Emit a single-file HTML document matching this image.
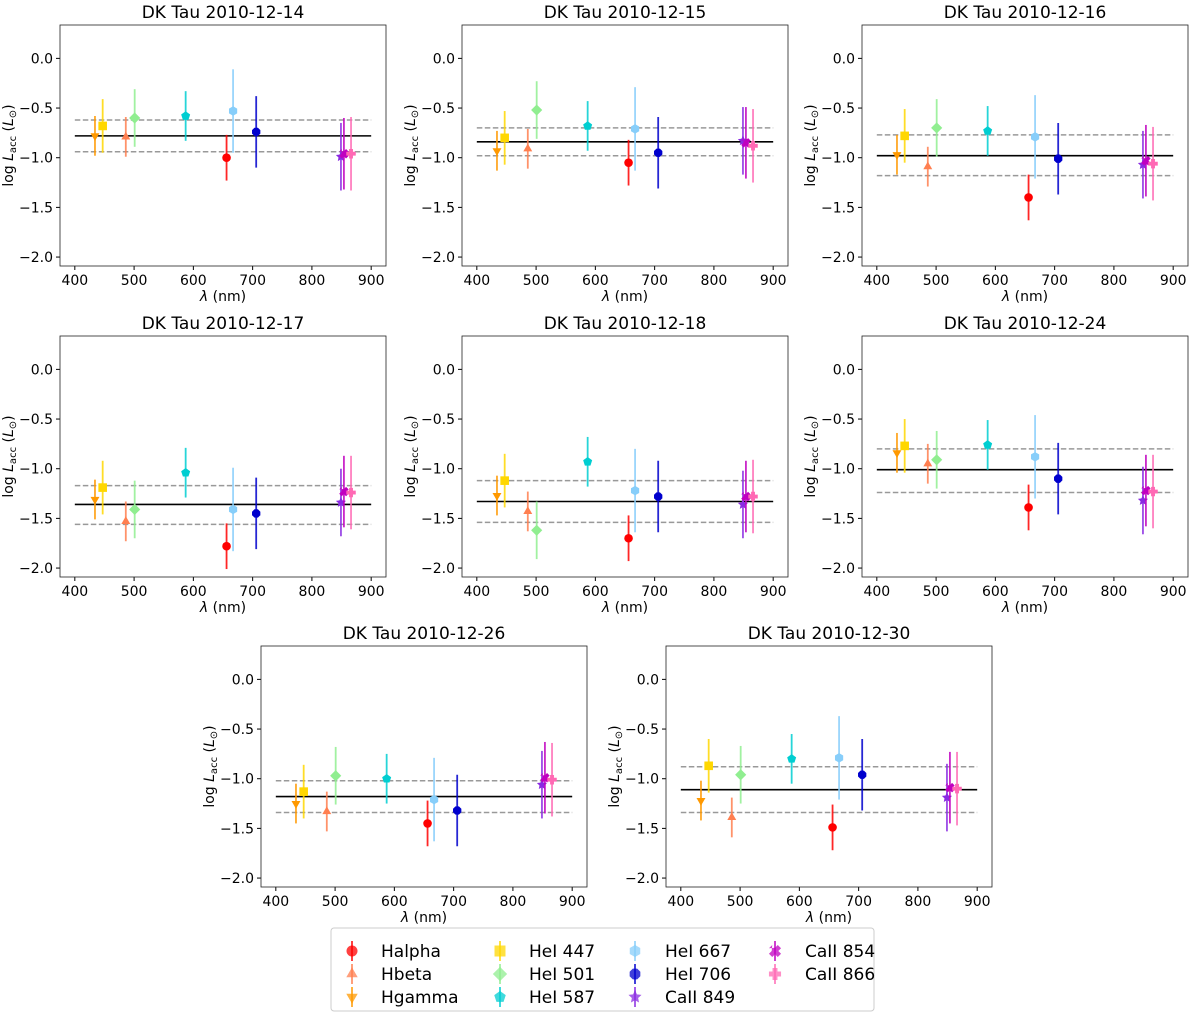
<!DOCTYPE html>
<html><head><meta charset="utf-8">
<style>
body{margin:0;background:#fff;}
svg{display:block;font-family:"DejaVu Sans","Liberation Sans",sans-serif;}
</style></head>
<body>
<svg id="fig" width="1200" height="1019" viewBox="0 0 1200 1019" xmlns="http://www.w3.org/2000/svg"></svg>
<script>
const lineNames = ["Halpha","Hbeta","Hgamma","HeI 447","HeI 501","HeI 587","HeI 667","HeI 706","CaII 849","CaII 854","CaII 866"];
const wavelengths = [656,486,434,447,501,587,667,706,849,854,866];
const colors = ["#ff0000","#ff7f50","#ff9900","#ffd700","#90ee90","#00ced1","#87cefa","#0000cd","#8a2be2","#c000c0","#ff69b4"];
const markers = ["circle","tri-up","tri-down","square","diamond","pentagon","hexagon","octagon","star","xcross","plus"];
const errors = [0.23,0.2,0.2,0.27,0.29,0.25,0.42,0.36,0.34,0.36,0.37];
const panelTitles = ["DK Tau 2010-12-14","DK Tau 2010-12-15","DK Tau 2010-12-16","DK Tau 2010-12-17","DK Tau 2010-12-18","DK Tau 2010-12-24","DK Tau 2010-12-26","DK Tau 2010-12-30"];
const vals1214 = [-1.0,-0.79,-0.78,-0.68,-0.60,-0.58,-0.53,-0.74,-0.99,-0.96,-0.96];
const vals1215 = [-1.05,-0.91,-0.93,-0.80,-0.52,-0.68,-0.71,-0.95,-0.83,-0.85,-0.88];
const vals1216 = [-1.40,-1.09,-0.97,-0.78,-0.70,-0.73,-0.79,-1.01,-1.07,-1.03,-1.06];
const vals1217 = [-1.78,-1.53,-1.31,-1.19,-1.41,-1.04,-1.41,-1.45,-1.34,-1.23,-1.24];
const vals1218 = [-1.70,-1.43,-1.27,-1.12,-1.62,-0.93,-1.22,-1.28,-1.36,-1.28,-1.28];
const vals1224 = [-1.39,-0.95,-0.84,-0.77,-0.91,-0.76,-0.88,-1.10,-1.32,-1.22,-1.23];
const vals1226 = [-1.45,-1.33,-1.25,-1.13,-0.97,-1.00,-1.21,-1.32,-1.06,-0.99,-1.01];
const vals1230 = [-1.49,-1.39,-1.22,-0.87,-0.96,-0.80,-0.79,-0.96,-1.19,-1.09,-1.10];
const panelValues = [vals1214,vals1215,vals1216,vals1217,vals1218,vals1224,vals1226,vals1230];
const means = [-0.78,-0.84,-0.98,-1.36,-1.33,-1.01,-1.18,-1.11];
const upperBand = [-0.62,-0.70,-0.77,-1.17,-1.12,-0.80,-1.02,-0.88];
const lowerBand = [-0.94,-0.98,-1.18,-1.56,-1.54,-1.24,-1.34,-1.34];
const xTicks = [400,500,600,700,800,900];
const yTicks = [0.0,-0.5,-1.0,-1.5,-2.0];
const yTickLabels = ["0.0","\u22120.5","\u22121.0","\u22121.5","\u22122.0"];

const NS="http://www.w3.org/2000/svg";
const svg=document.getElementById('fig');
function mk(tag,attrs,parent){const e=document.createElementNS(NS,tag);for(const k in attrs)e.setAttribute(k,attrs[k]);(parent||svg).appendChild(e);return e;}
const PW=326,PH=241,XMIN=375,XMAX=925,YMIN=-2.09,YMAX=0.336;
const panelPos=[[60,25],[462,25],[862,25],[60,336],[462,336],[862,336],[261,646],[666,646]];

function markerPath(type,cx,cy,r){
  const poly=(n,rot,rr)=>{let p=[];for(let i=0;i<n;i++){const a=rot+i*2*Math.PI/n;p.push((cx+rr*Math.cos(a)).toFixed(2)+","+(cy+rr*Math.sin(a)).toFixed(2));}return p.join(" ");};
  switch(type){
    case "circle": return ["circle",{cx,cy,r}];
    case "tri-up": return ["polygon",{points:poly(3,-Math.PI/2,r*1.2)}];
    case "tri-down": return ["polygon",{points:poly(3,Math.PI/2,r*1.2)}];
    case "square": return ["rect",{x:cx-r,y:cy-r,width:2*r,height:2*r}];
    case "diamond": return ["polygon",{points:poly(4,-Math.PI/2,r*1.3)}];
    case "pentagon": return ["polygon",{points:poly(5,-Math.PI/2,r*1.1)}];
    case "hexagon": return ["polygon",{points:poly(6,-Math.PI/2,r*1.1)}];
    case "octagon": return ["polygon",{points:poly(8,Math.PI/8,r*1.05)}];
    case "star": {let p=[];for(let i=0;i<10;i++){const a=-Math.PI/2+i*Math.PI/5;const rr=i%2?r*0.6:r*1.25;p.push((cx+rr*Math.cos(a)).toFixed(2)+","+(cy+rr*Math.sin(a)).toFixed(2));}return ["polygon",{points:p.join(" ")}];}
    case "xcross": {const a=r*0.6,b=r*1.1;const p=[[-b,-b+a],[0,-a],[b-a,-b],[b,-b+a],[a,0],[b,b-a],[b-a,b],[0,a],[-b+a,b],[-b,b-a],[-a,0],[-b+a,-b]];
      return ["polygon",{points:p.map(q=>(cx+q[0]).toFixed(2)+","+(cy+q[1]).toFixed(2)).join(" ")}];}
    case "plus": {const a=r*0.45,b=r*1.1;const p=[[-a,-b],[a,-b],[a,-a],[b,-a],[b,a],[a,a],[a,b],[-a,b],[-a,a],[-b,a],[-b,-a],[-a,-a]];
      return ["polygon",{points:p.map(q=>(cx+q[0]).toFixed(2)+","+(cy+q[1]).toFixed(2)).join(" ")}];}
  }
}

panelPos.forEach((pos,pi)=>{
  const [L,T]=pos;
  const xs=v=>L+(v-XMIN)/(XMAX-XMIN)*PW;
  const ys=v=>T+(YMAX-v)/(YMAX-YMIN)*PH;
  const g=mk('g',{});
  
  
  const t=mk('text',{x:L+PW/2,y:T-7,'text-anchor':'middle','font-size':'17'},g);t.textContent=panelTitles[pi];
  
  
  xTicks.forEach(v=>{
    mk('line',{x1:xs(v),x2:xs(v),y1:T+PH,y2:T+PH+4,stroke:'#000','stroke-width':1},g);
    const tl=mk('text',{x:xs(v),y:T+PH+19,'text-anchor':'middle','font-size':'14'},g);tl.textContent=v;
    
    
  });
  yTicks.forEach((v,i)=>{
    mk('line',{x1:L-4,x2:L,y1:ys(v),y2:ys(v),stroke:'#000','stroke-width':1},g);
    const tl=mk('text',{x:L-7,y:ys(v)+5,'text-anchor':'end','font-size':'14'},g);tl.textContent=yTickLabels[i];
    
    
  });
  const xl=mk('text',{x:L+PW/2,y:T+PH+35,'text-anchor':'middle','font-size':'14'},g);
  xl.innerHTML='<tspan font-style="italic">λ</tspan> (nm)';
  
  
  const cy=T+PH/2;
  const yl=mk('text',{x:L-47,y:cy,'text-anchor':'middle','font-size':'14',transform:`rotate(-90 ${L-47} ${cy})`},g);
  yl.innerHTML='log <tspan font-style="italic">L</tspan><tspan font-size="10" dy="3">acc</tspan><tspan dy="-3"> (</tspan><tspan font-style="italic">L</tspan><tspan font-size="10" dy="3">⊙</tspan><tspan dy="-3">)</tspan>';
  
  
  const m=mk('line',{x1:xs(400),x2:xs(900),y1:ys(means[pi]),y2:ys(means[pi]),stroke:'#000','stroke-width':1.6},g);
  
  
  [upperBand[pi],lowerBand[pi]].forEach(v=>{
    const d=mk('line',{x1:xs(400),x2:xs(900),y1:ys(v),y2:ys(v),stroke:'#999','stroke-width':1.5,'stroke-dasharray':'5.5,2.5'},g);
    
    
  });
  const vals=panelValues[pi];
  vals.forEach((v,i)=>{
    const x=xs(wavelengths[i]);
    const e=mk('line',{x1:x,x2:x,y1:ys(v+errors[i]),y2:ys(v-errors[i]),stroke:colors[i],'stroke-width':1.8,'stroke-opacity':0.85},g);
    
    
    const [tag,at]=markerPath(markers[i],x,ys(v),4.3);
    at.fill=colors[i];
    const p=mk(tag,at,g);
    
    
  });
  const fr=mk('rect',{x:L,y:T,width:PW,height:PH,fill:'none',stroke:'#222','stroke-width':0.8},g);
  
  
});

const lg=mk('g',{});


mk('rect',{x:331,y:928,width:543,height:83,rx:3,fill:'#fff',stroke:'#ccc','stroke-width':1},lg);
const legMx=[352,500,635,775],legTx=[381,529,665,805],legY=[951,974,997];
lineNames.forEach((n,i)=>{
  const col=Math.floor(i/3),row=i%3;
  const mx=legMx[col],my=legY[row];
  const e=mk('g',{},lg);
  
  
  mk('line',{x1:mx,x2:mx,y1:my-10,y2:my+10,stroke:colors[i],'stroke-width':2,'stroke-opacity':0.75},e);
  const [tag,at]=markerPath(markers[i],mx,my,5.5);
  at.fill=colors[i];at['fill-opacity']=0.75;
  mk(tag,at,e);
  const t=mk('text',{x:legTx[col],y:my+6,'font-size':'17'},e);t.textContent=n;
});
</script>
</body></html>
